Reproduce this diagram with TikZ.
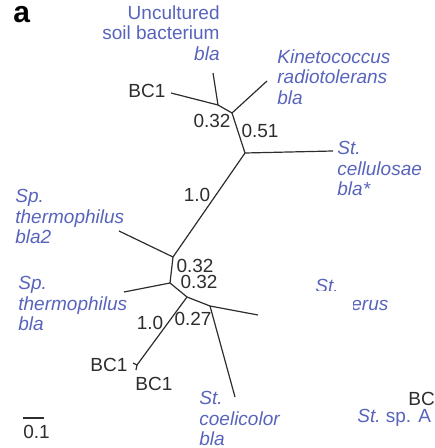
\documentclass[tikz,border=0pt]{standalone}
\usepackage{fontspec}
\setmainfont{Liberation Sans}
\usetikzlibrary{positioning}
\definecolor{labelblue}{RGB}{88,100,188}
\definecolor{branchgray}{RGB}{45,45,45}

\begin{document}
\begin{tikzpicture}[x=0.5pt, y=-0.5pt]
    \tikzstyle{branch}=[draw=branchgray, line width=0.6pt]
    \tikzstyle{taxon}=[inner sep=0, text=labelblue, font=\fontsize{9.5}{10.3}\selectfont\itshape]
    \tikzstyle{clone}=[inner sep=0, text=branchgray, font=\fontsize{9.5}{10.3}\selectfont]
    \tikzstyle{support}=[inner sep=0, text=branchgray, font=\fontsize{9.5}{10.3}\selectfont]

    \useasboundingbox (0, 0) rectangle (434, 448);
    \clip (0, 0) rectangle (434, 448);

    % Inner nodes
    \coordinate (n_a) at (218, 105);
    \coordinate (n_b) at (232, 113);
    \coordinate (n_c) at (245, 153);
    \coordinate (n_d) at (173, 257);
    \coordinate (n_e) at (170, 283);
    \coordinate (n_f) at (187, 297);
    \coordinate (n_g) at (210, 306);
    \coordinate (n_h) at (137, 365);

    % Leaves
    \coordinate (l_bc1) at (171, 93);
    \coordinate (l_soil) at (213, 73);
    \coordinate (l_kin) at (267, 81);
    \coordinate (l_cell) at (333, 151);
    \coordinate (l_thermo2) at (119, 231);
    \coordinate (l_thermo) at (124, 292);
    \coordinate (l_erus) at (258, 315);
    \coordinate (l_coel) at (235, 397);
    \coordinate (l_h1) at (133, 363);
    \coordinate (l_h2) at (136, 370);

    % Branches
    \draw[branch] (n_a) -- (l_bc1);
    \draw[branch] (n_a) -- (l_soil);
    \draw[branch] (n_a) -- (n_b);
    \draw[branch] (n_b) -- (l_kin);
    \draw[branch] (n_b) -- (n_c);
    \draw[branch] (n_c) -- (l_cell);
    \draw[branch] (n_c) -- (n_d);
    \draw[branch] (n_d) -- (l_thermo2);
    \draw[branch] (n_d) -- (n_e);
    \draw[branch] (n_e) -- (l_thermo);
    \draw[branch] (n_e) -- (n_f);
    \draw[branch] (n_f) -- (n_h);
    \draw[branch] (n_f) -- (n_g);
    \draw[branch] (n_g) -- (l_erus);
    \draw[branch] (n_g) -- (l_coel);
    \draw[branch] (n_h) -- (l_h1);
    \draw[branch] (n_h) -- (l_h2);

    % Bootstrap values
    \node[support] (s_top) at (212, 121) {0.32};
    \node[support] (s_051) at (260, 131) {0.51};
    \node[support] (s_up10) at (197, 195) {1.0};
    \node[support] (s_mid1) at (195, 266) {0.32};
    \node[support] (s_mid2) at (199, 282) {0.32};
    \node[support] (s_lo10) at (150, 323) {1.0};
    \node[support] (s_027) at (193, 319) {0.27};

    % Taxa
    \node[taxon, anchor=north east, align=right] (t_soil) at (220, 5)
        {\upshape Uncultured\\\upshape soil bacterium\\bla};
    \node[taxon, anchor=north west, align=left] (t_kin) at (277, 49)
        {Kinetococcus\\radiotolerans\\bla};
    \node[taxon, anchor=north west, align=left] (t_cell) at (337, 141)
        {St.\\cellulosae\\bla*};
    \node[taxon, anchor=north west, align=left] (t_thermo2) at (15, 189)
        {Sp.\\thermophilus\\bla2};
    \node[taxon, anchor=north west, align=left] (t_thermo) at (18, 276)
        {Sp.\\thermophilus\\bla};
    \node[taxon, anchor=north west, align=left] (t_coel) at (199, 391)
        {St.\\coelicolor\\bla};
    \node[taxon, anchor=base west] (t_spa) at (357, 422) {St.\upshape\ sp. A};

    \begin{scope}
        \clip (300, 250) rectangle (360, 290);
        \node[taxon, anchor=base west] (t_st) at (315, 292) {St.};
    \end{scope}
    \begin{scope}
        \clip (353, 290) rectangle (420, 320);
        \node[taxon, anchor=base west] (t_erus) at (351, 310) {erus};
    \end{scope}

    % Clones
    \node[clone, anchor=base west] (c_top) at (128, 98) {BC1};
    \node[clone, anchor=base west] (c_left) at (90, 371) {BC1};
    \node[clone, anchor=base west] (c_below) at (135, 390) {BC1};
    \node[clone, anchor=base west] (c_right) at (408, 405) {BC1};

    % Panel letter and scale bar
    \node[inner sep=0, anchor=base west, font=\fontsize{15}{15}\selectfont\bfseries] (panel) at (13, 23) {a};
    \coordinate (bar_l) at (23, 418);
    \coordinate (bar_r) at (44, 418);
    \draw[branch] (bar_l) -- (bar_r);
    \node[support, anchor=base west] (bar_label) at (23, 438) {0.1};
\end{tikzpicture}
\end{document}
